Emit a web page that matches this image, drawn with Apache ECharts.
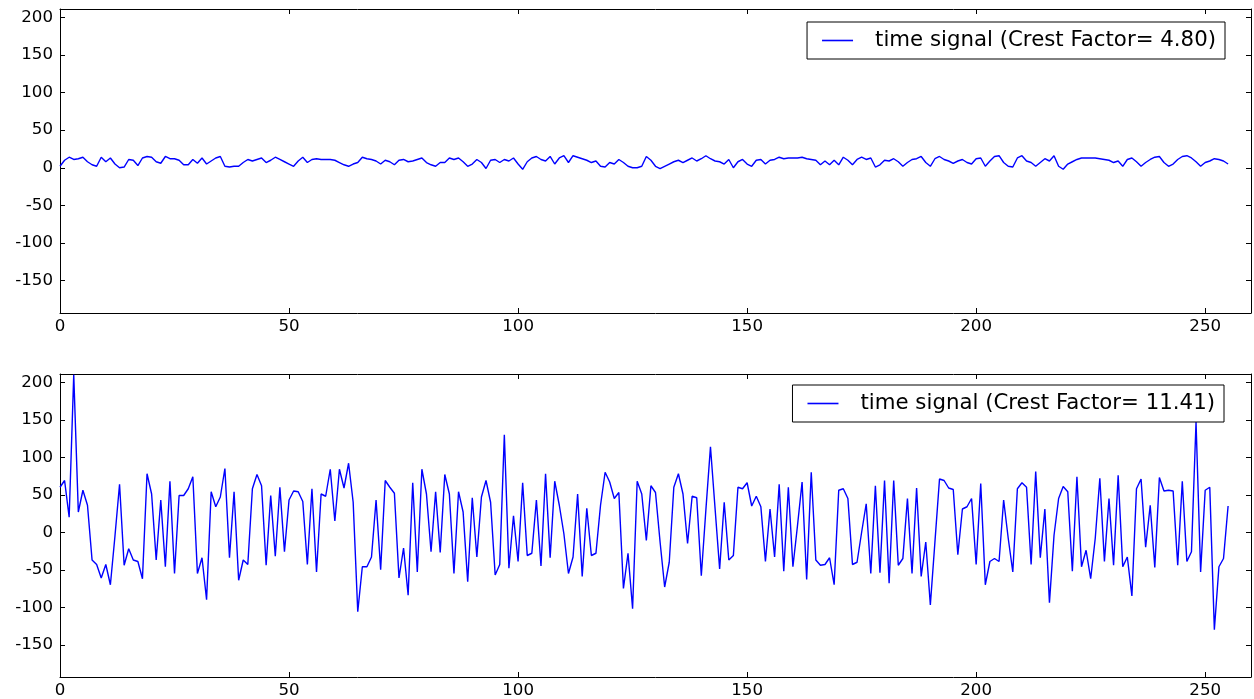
<!DOCTYPE html>
<html>
<head>
<meta charset="utf-8">
<script src="https://cdn.jsdelivr.net/npm/echarts@6/dist/echarts.min.js"></script>
<style>
  html, body { margin: 0; padding: 0; background: #fff; }
  #chart { width: 1254px; height: 699px; }
</style>
</head>
<body>
<div id="chart"></div>
<script>
// ---- data ----
const topName = 'time signal (Crest Factor= 4.80)';
const bottomName = 'time signal (Crest Factor= 11.41)';

const topSignal = [
  2, 10, 14, 11, 12, 14, 8, 4, 2, 14,
  8, 13, 5, 0, 1, 11, 10, 3, 13, 15,
  14, 8, 6, 15, 12, 12, 10, 4, 4, 11,
  6, 13, 5, 9, 13, 15, 2, 1, 2, 2,
  7, 11, 9, 11, 13, 7, 10, 14, 11, 8,
  5, 2, 9, 14, 7, 11, 12, 11, 11, 11,
  10, 7, 4, 2, 5, 7, 14, 12, 11, 9,
  5, 10, 8, 4, 10, 11, 8, 9, 11, 13,
  7, 4, 2, 7, 7, 13, 11, 13, 8, 2,
  5, 11, 7, -1, 10, 11, 7, 11, 9, 13,
  5, -2, 8, 13, 15, 11, 9, 15, 5, 13,
  16, 7, 16, 14, 12, 10, 7, 9, 2, 1,
  7, 5, 11, 7, 2, 0, 0, 2, 15, 10,
  2, -1, 2, 5, 8, 10, 7, 10, 13, 9,
  12, 16, 12, 9, 8, 5, 11, 0, 8, 11,
  5, 2, 10, 11, 5, 10, 11, 14, 12, 13,
  13, 13, 14, 12, 11, 10, 4, 9, 4, 10,
  4, 14, 10, 4, 11, 14, 11, 13, 1, 4,
  10, 9, 12, 8, 2, 7, 11, 12, 15, 7,
  2, 12, 15, 11, 9, 6, 9, 11, 7, 5,
  12, 13, 2, 9, 15, 16, 7, 2, 1, 13,
  16, 9, 7, 2, 7, 12, 9, 16, 2, -2,
  5, 8, 11, 13, 13, 13, 13, 12, 11, 10,
  7, 9, 2, 11, 13, 8, 2, 7, 11, 14,
  15, 7, 2, 5, 11, 15, 16, 13, 8, 2,
  7, 9, 12, 11, 9, 5
];

const bottomSignal = [
  60, 69, 20, 210, 27, 56, 36, -37, -43, -61,
  -43, -70, -5, 64, -44, -22, -37, -39, -62, 78,
  51, -37, 43, -46, 68, -55, 49, 49, 58, 74,
  -55, -34, -90, 54, 34, 47, 85, -34, 54, -64,
  -37, -43, 58, 77, 62, -44, 49, -32, 60, -26,
  43, 55, 54, 41, -43, 58, -53, 51, 48, 84,
  15, 84, 59, 92, 40, -106, -46, -46, -33, 43,
  -50, 69, 60, 52, -61, -21, -84, 66, -53, 84,
  51, -26, 54, -27, 77, 51, -55, 54, 27, -66,
  46, -33, 47, 69, 40, -57, -43, 130, -48, 22,
  -39, 66, -31, -28, 43, -45, 78, -34, 68, 36,
  -2, -55, -33, 51, -59, 32, -31, -28, 36, 80,
  67, 45, 53, -75, -28, -102, 68, 51, -11, 62,
  53, -13, -73, -40, 60, 78, 51, -15, 48, 46,
  -58, 30, 114, 32, -49, 40, -37, -31, 60, 58,
  66, 35, 48, 34, -39, 31, -33, 64, -52, 60,
  -46, 9, 67, -63, 80, -37, -44, -43, -34, -70,
  56, 58, 45, -43, -40, 0, 38, -55, 62, -54,
  69, -68, 69, -44, -35, 45, -55, 59, -59, -13,
  -97, -13, 71, 69, 59, 57, -30, 31, 34, 45,
  -43, 65, -70, -39, -35, -39, 43, -8, -53, 58,
  66, 60, -43, 81, -34, 31, -94, -4, 45, 61,
  54, -52, 74, -46, -24, -62, -8, 72, -39, 45,
  -44, 76, -46, -33, -85, 58, 71, -20, 36, -47,
  73, 55, 56, 55, -44, 68, -39, -26, 147, -53,
  56, 60, -130, -46, -35, 35
];

const xTicks = [0, 50, 100, 150, 200, 250];
const yTicks = [-150, -100, -50, 0, 50, 100, 150, 200];

// ---- chart ----
const FONT = 'DejaVu Sans';
const X_MIN = 0, X_MAX = 260, Y_MIN = -193, Y_MAX = 211;
const LINE_COLOR = '#0000ff';

function xAxisDef(grid, pos, labels) {
  return {
    type: 'value', gridIndex: grid, position: pos, min: X_MIN, max: X_MAX,
    axisLine: { show: true, onZero: false, lineStyle: { color: '#000', width: 1 } },
    axisTick: { show: true, inside: true, length: 5, customValues: xTicks, lineStyle: { color: '#000', width: 1 } },
    axisLabel: { show: labels, customValues: xTicks, margin: 5, color: '#000', fontFamily: FONT, fontSize: 16.67 },
    splitLine: { show: false }
  };
}
function yAxisDef(grid, pos, labels) {
  return {
    type: 'value', gridIndex: grid, position: pos, min: Y_MIN, max: Y_MAX,
    axisLine: { show: true, onZero: false, lineStyle: { color: '#000', width: 1 } },
    axisTick: { show: true, inside: true, length: 5, customValues: yTicks, lineStyle: { color: '#000', width: 1 } },
    axisLabel: { show: labels, customValues: yTicks, margin: 7, color: '#000', fontFamily: FONT, fontSize: 16.67 },
    splitLine: { show: false }
  };
}
function legendDef(name, top, right) {
  return {
    data: [{ name: name, icon: 'rect', itemStyle: { color: LINE_COLOR } }],
    top: top, right: right, orient: 'horizontal',
    padding: [8, 9, 8, 15], itemWidth: 31, itemHeight: 1.6,
    borderColor: '#000', borderWidth: 1, borderRadius: 0, backgroundColor: '#fff',
    formatter: n => '{g|}' + n,
    textStyle: {
      fontFamily: FONT, fontSize: 21.3, color: '#000',
      rich: { g: { width: 17 } }
    },
    selectedMode: false
  };
}

const chart = echarts.init(document.getElementById('chart'), null, { renderer: 'canvas' });
chart.setOption({
  animation: false,
  backgroundColor: '#fff',
  grid: [
    { left: 60, top: 9, width: 1191, height: 304, containLabel: false },
    { left: 60, top: 374, width: 1191, height: 304, containLabel: false }
  ],
  xAxis: [xAxisDef(0, 'bottom', true), xAxisDef(0, 'top', false), xAxisDef(1, 'bottom', true), xAxisDef(1, 'top', false)],
  yAxis: [yAxisDef(0, 'left', true), yAxisDef(0, 'right', false), yAxisDef(1, 'left', true), yAxisDef(1, 'right', false)],
  legend: [legendDef(topName, 22, 29), legendDef(bottomName, 385, 30)],
  series: [
    {
      name: topName, type: 'line', xAxisIndex: 0, yAxisIndex: 0,
      data: topSignal.map((v, i) => [i, v]),
      symbol: 'none', lineStyle: { color: LINE_COLOR, width: 1.4 }, itemStyle: { color: LINE_COLOR }
    },
    {
      name: bottomName, type: 'line', xAxisIndex: 2, yAxisIndex: 2,
      data: bottomSignal.map((v, i) => [i, v]),
      symbol: 'none', lineStyle: { color: LINE_COLOR, width: 1.4 }, itemStyle: { color: LINE_COLOR }
    }
  ]
});
</script>
</body>
</html>
